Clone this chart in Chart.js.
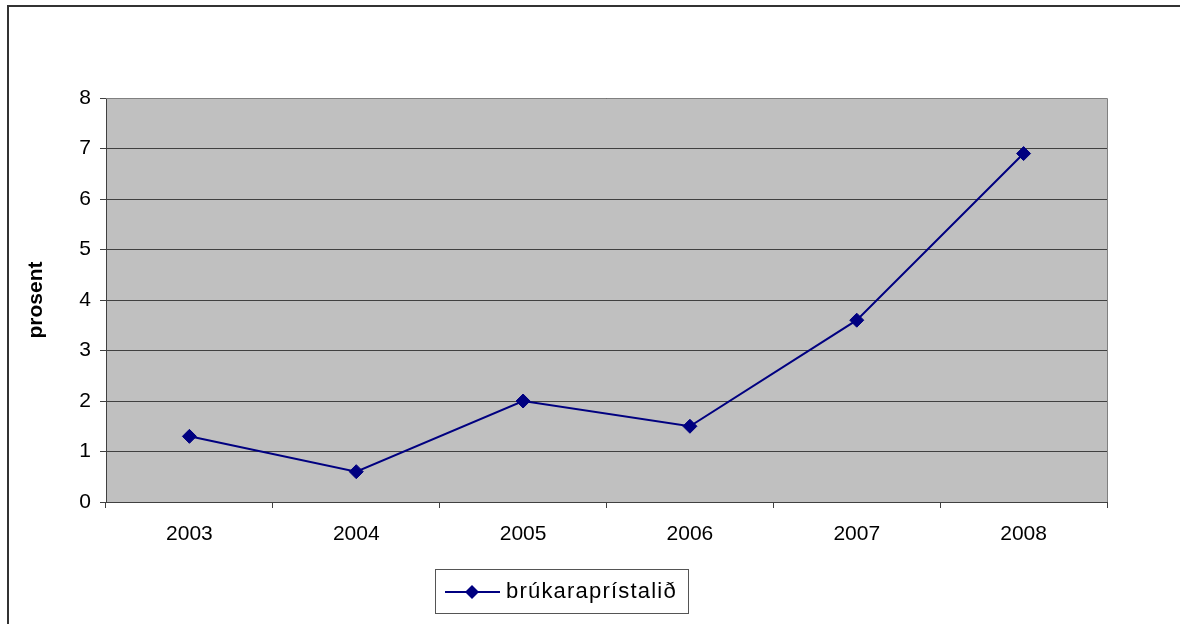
<!DOCTYPE html>
<html>
<head>
<meta charset="utf-8">
<script src="https://cdn.jsdelivr.net/npm/chart.js@4/dist/chart.umd.min.js"></script>
<style>
html,body{margin:0;padding:0;background:#fff;}
#wrap{position:relative;width:1180px;height:624px;}
</style>
</head>
<body>
<div id="wrap"><canvas id="c" width="1180" height="624"></canvas></div>
<script>
const categories = ['2003', '2004', '2005', '2006', '2007', '2008'];
const seriesName = 'brúkaraprístalið';
const seriesValues = [1.3, 0.6, 2.0, 1.5, 3.6, 6.9];
const yTicks = [0, 1, 2, 3, 4, 5, 6, 7, 8];
const yTitle = 'prosent';

const FONT = '"Liberation Sans", Arial, sans-serif';

const framePlugin = {
  id: 'frame',
  beforeDraw(chart) {
    const ctx = chart.ctx, a = chart.chartArea;
    ctx.save();
    ctx.fillStyle = '#fff';
    ctx.fillRect(0, 0, chart.width, chart.height);
    ctx.fillStyle = '#333';
    ctx.fillRect(7, 5, chart.width, 2);
    ctx.fillRect(7, 5, 2, chart.height);
    ctx.fillStyle = '#C0C0C0';
    ctx.fillRect(a.left, a.top, a.right - a.left, a.bottom - a.top);
    ctx.restore();
  },
  beforeDatasetsDraw(chart) {
    const ctx = chart.ctx, a = chart.chartArea;
    ctx.save();
    ctx.strokeStyle = '#808080';
    ctx.lineWidth = 1;
    ctx.beginPath();
    ctx.moveTo(a.left, Math.round(a.top) + 0.5);
    ctx.lineTo(Math.round(a.right) + 0.5, Math.round(a.top) + 0.5);
    ctx.lineTo(Math.round(a.right) + 0.5, a.bottom);
    ctx.stroke();
    ctx.restore();
  },
  afterDraw(chart) {
    const ctx = chart.ctx;
    const ds = chart.data.datasets[0];
    const bx = 435, by = 569, bw = 253, bh = 44;
    ctx.save();
    ctx.fillStyle = '#fff';
    ctx.fillRect(bx, by, bw, bh);
    ctx.strokeStyle = '#555';
    ctx.lineWidth = 1;
    ctx.strokeRect(bx + 0.5, by + 0.5, bw, bh);
    const cy = 592;
    ctx.strokeStyle = ds.borderColor;
    ctx.lineWidth = ds.borderWidth;
    ctx.beginPath();
    ctx.moveTo(445, cy);
    ctx.lineTo(500, cy);
    ctx.stroke();
    const r = ds.pointRadius;
    ctx.fillStyle = ds.pointBackgroundColor;
    ctx.beginPath();
    ctx.moveTo(472, cy - r);
    ctx.lineTo(472 + r, cy);
    ctx.lineTo(472, cy + r);
    ctx.lineTo(472 - r, cy);
    ctx.closePath();
    ctx.fill();
    ctx.fillStyle = '#000';
    ctx.font = '22px ' + FONT;
    try { ctx.letterSpacing = '1.2px'; } catch (e) {}
    ctx.textBaseline = 'middle';
    ctx.textAlign = 'left';
    ctx.fillText(ds.label, 506, cy);
    ctx.restore();
  }
};

new Chart(document.getElementById('c'), {
  type: 'line',
  data: {
    labels: categories,
    datasets: [{
      label: seriesName,
      data: seriesValues,
      borderColor: '#000080',
      backgroundColor: '#000080',
      pointBackgroundColor: '#000080',
      pointBorderColor: '#000080',
      borderWidth: 2,
      pointStyle: 'rectRot',
      pointRadius: 7,
      pointBorderWidth: 1,
      tension: 0,
      fill: false
    }]
  },
  options: {
    responsive: false,
    animation: false,
    devicePixelRatio: 1,
    layout: { padding: { left: 0, top: 98, right: 73, bottom: 72 } },
    plugins: { legend: { display: false }, tooltip: { enabled: false } },
    scales: {
      x: {
        type: 'category',
        offset: true,
        grid: { offset: true, drawOnChartArea: false, drawTicks: true, tickLength: 6, color: '#404040', lineWidth: 1 },
        border: { display: true, color: '#404040', width: 1 },
        ticks: { color: '#000', font: { family: FONT, size: 21 }, padding: 14, maxRotation: 0 },
        afterFit(s) { s.height = 50; }
      },
      y: {
        min: 0,
        max: 8,
        afterBuildTicks(s) { s.ticks = yTicks.map(v => ({ value: v })); },
        grid: { color: '#404040', lineWidth: 1, tickLength: 6, drawTicks: true },
        border: { display: true, color: '#404040', width: 1 },
        ticks: { color: '#000', font: { family: FONT, size: 21 }, padding: 9, stepSize: 1 },
        title: { display: true, text: yTitle, color: '#000', font: { family: FONT, size: 21, weight: 'bold' }, padding: { top: 24, bottom: 0 } },
        afterFit(s) { s.width = 106; }
      }
    }
  },
  plugins: [framePlugin]
});
</script>
</body>
</html>
